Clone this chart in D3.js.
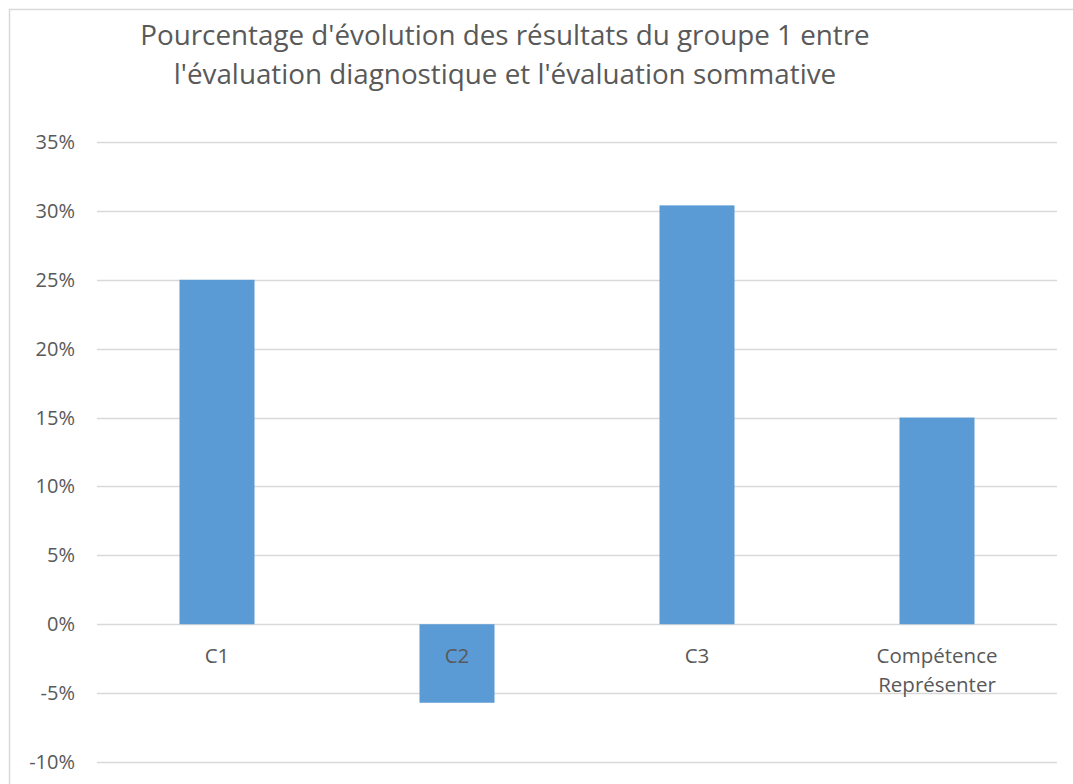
<!DOCTYPE html>
<html>
<head>
<meta charset="utf-8">
<title>Pourcentage d'évolution</title>
<script src="https://d3js.org/d3.v7.min.js"></script>
<style>
  body { margin: 0; background: #fff; }
  text { font-family: "Open Sans", "Noto Sans", sans-serif; fill: #595959; }
</style>
</head>
<body>
<div id="chart"></div>
<script>
// data
var categories = ["C1", "C2", "C3", "Compétence Représenter"];
var values = [0.25, -0.057, 0.304, 0.15];
var yTicks = [-0.10, -0.05, 0, 0.05, 0.10, 0.15, 0.20, 0.25, 0.30, 0.35];
var titleLines = ["Pourcentage d'évolution des résultats du groupe 1 entre",
                  "l'évaluation diagnostique et l'évaluation sommative"];

var W = 1073, H = 784;
var plot = {left: 97, right: 1057, top: 142, bottom: 762};

var svg = d3.select("#chart").append("svg")
  .attr("width", W).attr("height", H);

// chart area border (extends past the picture on right/bottom)
svg.append("rect")
  .attr("x", 9.5).attr("y", 9.5)
  .attr("width", W + 20).attr("height", H + 20)
  .attr("fill", "#fff").attr("stroke", "#d9d9d9").attr("stroke-width", 1.5);

var x = d3.scaleBand()
  .domain(categories)
  .range([plot.left, plot.right])
  .paddingInner(0.6875).paddingOuter(0.34375);

var y = d3.scaleLinear().domain([-0.10, 0.35]).range([plot.bottom, plot.top]);

// gridlines
svg.append("g").selectAll("line")
  .data(yTicks).enter().append("line")
  .attr("x1", plot.left).attr("x2", plot.right)
  .attr("y1", function(d) { return Math.round(y(d)) + 0.5; })
  .attr("y2", function(d) { return Math.round(y(d)) + 0.5; })
  .attr("stroke", "#d9d9d9").attr("stroke-width", 1.5);

// y labels (plain hyphen for negatives, like the original)
svg.append("g").selectAll("text")
  .data(yTicks).enter().append("text")
  .attr("x", 75)
  .attr("y", function(d) { return y(d); })
  .attr("dy", "0.35em")
  .attr("text-anchor", "end")
  .style("font-size", "20px")
  .text(function(d) { return Math.round(d * 100) + "%"; });

// bars
svg.append("g").selectAll("rect")
  .data(values).enter().append("rect")
  .attr("x", function(d, i) { return x(categories[i]); })
  .attr("width", x.bandwidth())
  .attr("y", function(d) { return y(Math.max(0, d)); })
  .attr("height", function(d) { return Math.abs(y(d) - y(0)); })
  .attr("fill", "#5b9bd5");

// category labels, wrapped on spaces
svg.append("g").selectAll("text")
  .data(categories).enter().append("text")
  .attr("text-anchor", "middle")
  .style("font-size", "20.5px")
  .each(function(d) {
    var t = d3.select(this);
    var cx = x(d) + x.bandwidth() / 2;
    d.split(" ").forEach(function(w, k) {
      t.append("tspan").attr("x", cx).attr("y", 663 + k * 29).text(w);
    });
  });

// title
svg.append("g").selectAll("text")
  .data(titleLines).enter().append("text")
  .attr("x", 505)
  .attr("y", function(d, i) { return 45 + i * 39; })
  .attr("text-anchor", "middle")
  .style("font-size", "27.8px")
  .text(function(d) { return d; });
</script>
</body>
</html>
